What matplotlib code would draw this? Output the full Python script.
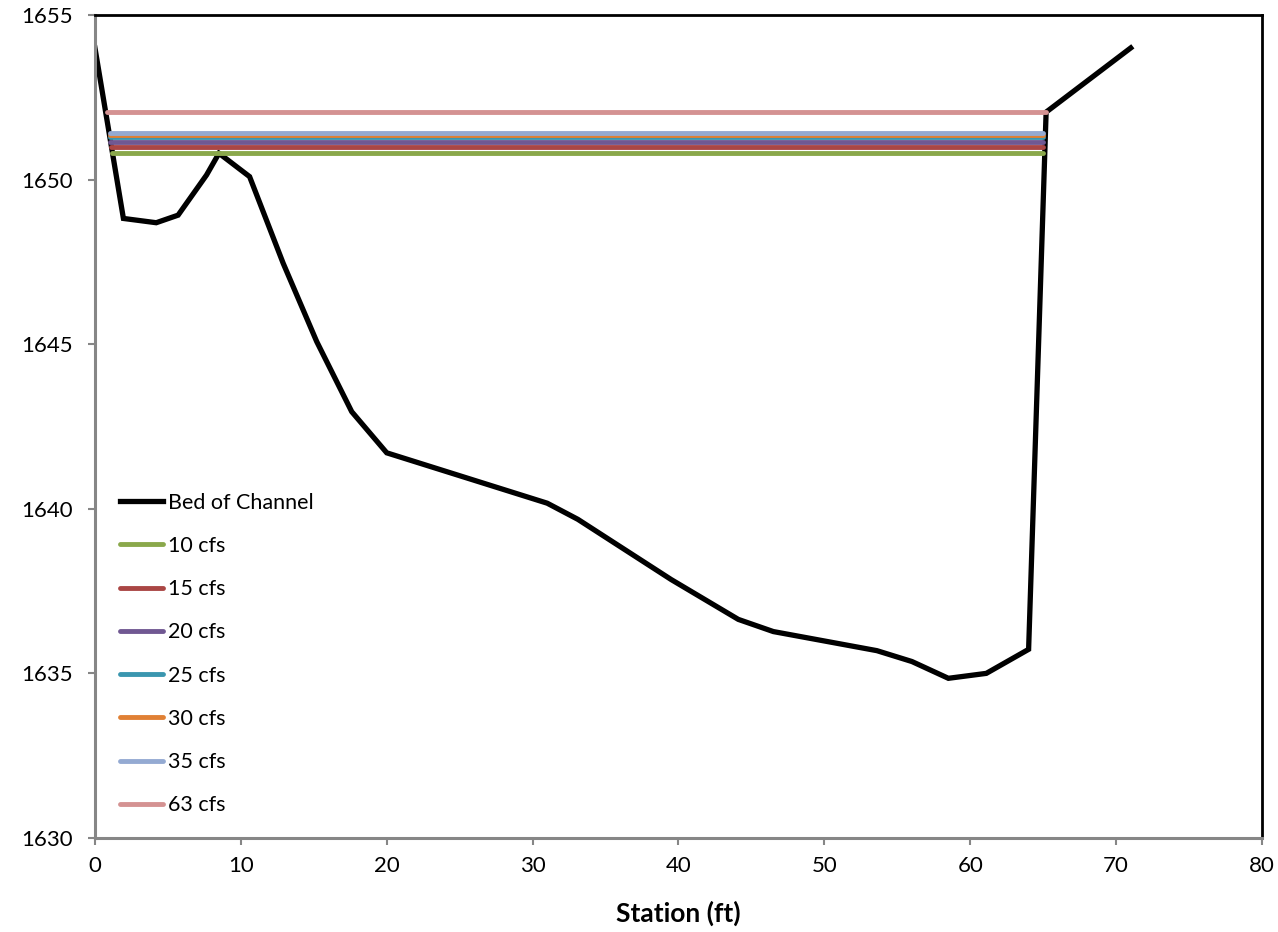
import matplotlib
matplotlib.use("Agg")
import matplotlib.pyplot as plt

plt.rcParams['font.family'] = ['Lato', 'DejaVu Sans']

# lit du chenal (station, elevation)
station = [0, 1.95, 4.2, 5.7, 7.65, 8.5, 10.6, 12.9, 15.2, 17.6, 20.0,
           31.0, 33.1, 39.5, 44.1, 46.5, 53.6, 56.0, 58.5, 61.1, 64.0,
           65.2, 71.0]
elev = [1654.0, 1648.82, 1648.69, 1648.92, 1650.14, 1650.8, 1650.09,
        1647.46, 1645.08, 1642.95, 1641.7, 1640.17, 1639.68, 1637.85,
        1636.64, 1636.27, 1635.69, 1635.36, 1634.85, 1635.0, 1635.73,
        1652.05, 1654.0]

# niveaux d'eau par debit
debits = ["10 cfs", "15 cfs", "20 cfs", "25 cfs", "30 cfs", "35 cfs", "63 cfs"]
niveaux = [1650.8, 1650.98, 1651.13, 1651.28, 1651.36, 1651.43, 1652.05]
x_debut = [1.2, 1.1, 1.05, 1.05, 1.0, 1.0, 0.85]
x_fin = [65.0, 65.0, 65.0, 65.0, 65.0, 65.0, 65.2]
couleurs = ["#8aa84b", "#aa4644", "#705892", "#3a96af", "#e08034",
            "#94aad2", "#d49292"]

fig = plt.figure(figsize=(12.78, 9.32), dpi=100)
ax = fig.add_axes([0.0743, 0.1009, 0.9132, 0.883])

ax.plot(station, elev, color="black", lw=3.8, label="Bed of Channel",
        solid_joinstyle="miter", zorder=2)
for nom, y, x0, x1, c in zip(debits, niveaux, x_debut, x_fin, couleurs):
    ax.plot([x0, x1], [y, y], color=c, lw=3.5, label=nom,
            solid_capstyle="round", zorder=3)

ax.set_xlim(0, 80)
ax.set_ylim(1630, 1655)
ax.set_xticks(range(0, 81, 10))
ax.set_yticks(range(1630, 1656, 5))
ax.set_xlabel("Station (ft)", fontsize=19, fontweight="bold", labelpad=18)

for s in ["left", "bottom"]:
    ax.spines[s].set_color("#868686")
    ax.spines[s].set_linewidth(2.2)
for s in ["top", "right"]:
    ax.spines[s].set_color("black")
    ax.spines[s].set_linewidth(2.0)
ax.tick_params(axis="both", direction="out", length=5, width=1.5,
               color="#868686", labelsize=16)
ax.tick_params(axis="y", pad=11)
ax.tick_params(axis="x", pad=8)

leg = ax.legend(loc="upper left", bbox_to_anchor=(0.014, 0.43), frameon=False,
                fontsize=15.5, handlelength=2.0, handletextpad=0.25,
                labelspacing=1.08, borderaxespad=0)

fig.savefig("out.png", dpi=100)
